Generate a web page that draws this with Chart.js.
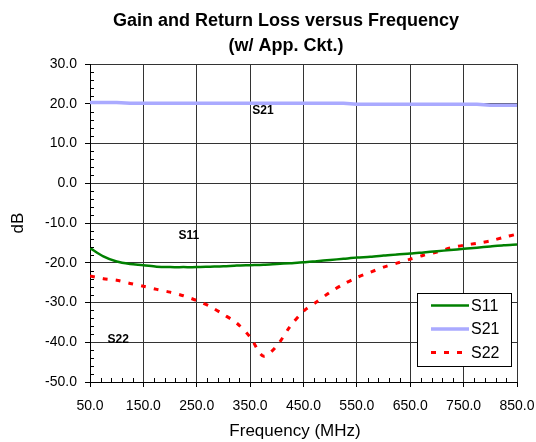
<!DOCTYPE html>
<html>
<head>
<meta charset="utf-8">
<script src="https://cdn.jsdelivr.net/npm/chart.js@4/dist/chart.umd.min.js"></script>
<style>
html,body{margin:0;padding:0;background:#fff;}
#wrap{width:536px;height:442px;}
</style>
</head>
<body>
<div id="wrap"><canvas id="c" width="536" height="442"></canvas></div>
<script>
// ---- data ----
const titleLines = ['Gain and Return Loss versus Frequency', '(w/ App. Ckt.)'];
const xTitle = 'Frequency (MHz)';
const yTitle = 'dB';
const seriesNames = ['S11', 'S21', 'S22'];
const freq = [50,75,100,125,150,175,200,225,250,275,300,325,350,375,400,425,450,475,500,525,550,575,600,625,650,675,700,725,750,775,800,825,850];
const s11 = [-16.3,-18.4,-19.7,-20.3,-20.6,-21.0,-21.1,-21.1,-21.1,-21.0,-20.9,-20.7,-20.6,-20.5,-20.3,-20.1,-19.9,-19.6,-19.3,-19.0,-18.7,-18.5,-18.2,-17.9,-17.7,-17.4,-17.1,-16.8,-16.5,-16.2,-15.9,-15.6,-15.4];
const s21 = [20.3,20.3,20.3,20.15,20.15,20.15,20.15,20.15,20.15,20.15,20.15,20.15,20.15,20.15,20.15,20.15,20.15,20.15,20.15,20.15,19.9,19.9,19.9,19.9,19.9,19.9,19.9,19.9,19.9,19.9,19.6,19.6,19.6];
const s22 = [-23.3,-24.0,-24.4,-25.2,-25.9,-26.7,-27.4,-28.3,-29.5,-31.0,-33.0,-35.2,-38.7,-43.5,-40.9,-36.0,-32.2,-29.8,-27.4,-25.4,-23.7,-22.4,-21.1,-20.1,-19.1,-18.1,-17.3,-16.3,-15.6,-15.1,-14.5,-13.6,-12.8];
// in-plot series labels (data coordinates: MHz, dB)
const labelText = ['S21', 'S11', 'S22'];
const labelX = [374, 235, 103];
const labelY = [18.2, -13.1, -39.4];

const colors = ['#008000', '#aaaaff', '#ff0000'];

function pts(arr){ return freq.map((f,i)=>({x:f, y:arr[i]})); }

const FONT = "'Liberation Sans', Arial, sans-serif";

const extras = {
  id: 'extras',
  afterDraw(chart){
    const ctx = chart.ctx;
    const xs = chart.scales.x, ys = chart.scales.y;
    const ca = chart.chartArea;
    ctx.save();
    // minor ticks
    ctx.strokeStyle = '#000';
    ctx.lineWidth = 1;
    ctx.beginPath();
    for (let v = ys.min; v <= ys.max; v += 2) {
      if (Math.abs(v % 10) < 1e-6) continue;
      const y = Math.round(ys.getPixelForValue(v)) + 0.5;
      ctx.moveTo(ca.left, y); ctx.lineTo(ca.left + 4, y);
    }
    for (let f = xs.min; f <= xs.max; f += 20) {
      if (Math.abs((f - 50) % 100) < 1e-6) continue;
      const x = Math.round(xs.getPixelForValue(f)) + 0.5;
      ctx.moveTo(x, ca.bottom); ctx.lineTo(x, ca.bottom - 4);
    }
    ctx.stroke();

    // in-plot labels
    ctx.fillStyle = '#000';
    ctx.font = "bold 12px " + FONT;
    ctx.textAlign = 'center';
    ctx.textBaseline = 'middle';
    for (let i = 0; i < labelText.length; i++) {
      ctx.fillText(labelText[i], xs.getPixelForValue(labelX[i]), ys.getPixelForValue(labelY[i]));
    }

    // legend box
    const bx = ca.right - 100, by = ca.bottom - 89, bw = 94, bh = 73;
    ctx.fillStyle = '#fff';
    ctx.fillRect(bx, by, bw, bh);
    ctx.strokeStyle = '#000';
    ctx.lineWidth = 1;
    ctx.strokeRect(Math.round(bx) + 0.5, Math.round(by) + 0.5, bw, bh);
    chart.data.datasets.forEach((ds, i) => {
      const ry = by + 12.5 + i * 23.5;
      ctx.beginPath();
      ctx.strokeStyle = ds.borderColor;
      ctx.lineWidth = ds.borderWidth;
      ctx.setLineDash(ds.borderDash || []);
      ctx.moveTo(bx + 14, ry); ctx.lineTo(bx + 52, ry);
      ctx.stroke();
      ctx.setLineDash([]);
      ctx.fillStyle = '#000';
      ctx.font = "16px " + FONT;
      ctx.textAlign = 'left';
      ctx.textBaseline = 'middle';
      ctx.fillText(ds.label, bx + 54, ry + 1);
    });

    // titles
    ctx.fillStyle = '#000';
    ctx.textAlign = 'center';
    ctx.textBaseline = 'middle';
    ctx.font = "bold 18px " + FONT;
    ctx.fillText(titleLines[0], 286, 21);
    ctx.fillText(titleLines[1], 286, 46);
    ctx.font = "17px " + FONT;
    ctx.fillText(xTitle, 295, 431);
    ctx.restore();
  }
};

new Chart(document.getElementById('c'), {
  type: 'line',
  data: {
    datasets: [
      { label: seriesNames[0], data: pts(s11), borderColor: colors[0], backgroundColor: colors[0], borderWidth: 2.5, pointRadius: 0, tension: 0.3, fill: false },
      { label: seriesNames[1], data: pts(s21), borderColor: colors[1], backgroundColor: colors[1], borderWidth: 3.5, pointRadius: 0, tension: 0, fill: false },
      { label: seriesNames[2], data: pts(s22), borderColor: colors[2], backgroundColor: colors[2], borderWidth: 3, borderDash: [5, 8], pointRadius: 0, tension: 0.3, fill: false }
    ]
  },
  options: {
    responsive: false,
    animation: false,
    devicePixelRatio: 1,
    layout: { padding: { top: 64, left: 0, right: 19, bottom: 0 } },
    plugins: { legend: { display: false }, title: { display: false }, tooltip: { enabled: false } },
    scales: {
      x: {
        type: 'linear', min: 50, max: 850,
        afterFit(s){ s.height = 60; s.paddingLeft = 0; s.paddingRight = 0; },
        afterBuildTicks(s){ const t=[]; for(let v=50; v<=850; v+=100) t.push({value:v}); s.ticks = t; },
        ticks: { stepSize: 100, color: '#000', padding: 11, maxRotation: 0, autoSkip: false,
          font: { family: FONT, size: 14 }, callback: v => Number(v).toFixed(1) },
        grid: { color: '#333', lineWidth: 1, drawTicks: true, tickLength: 5, tickColor: '#000' },
        border: { display: true, color: '#000', width: 1 },
        title: { display: false }
      },
      y: {
        min: -50, max: 30,
        afterFit(s){ s.width = 90; s.paddingTop = 0; s.paddingBottom = 0; },
        ticks: { stepSize: 10, color: '#000', padding: 8,
          font: { family: FONT, size: 14 }, callback: v => Number(v).toFixed(1) },
        grid: { color: '#333', lineWidth: 1, drawTicks: true, tickLength: 5, tickColor: '#000' },
        border: { display: true, color: '#000', width: 1 },
        title: { display: true, text: yTitle, color: '#000', font: { family: FONT, size: 17 }, padding: { top: 8, bottom: 0 } }
      }
    }
  },
  plugins: [extras]
});
</script>
</body>
</html>
